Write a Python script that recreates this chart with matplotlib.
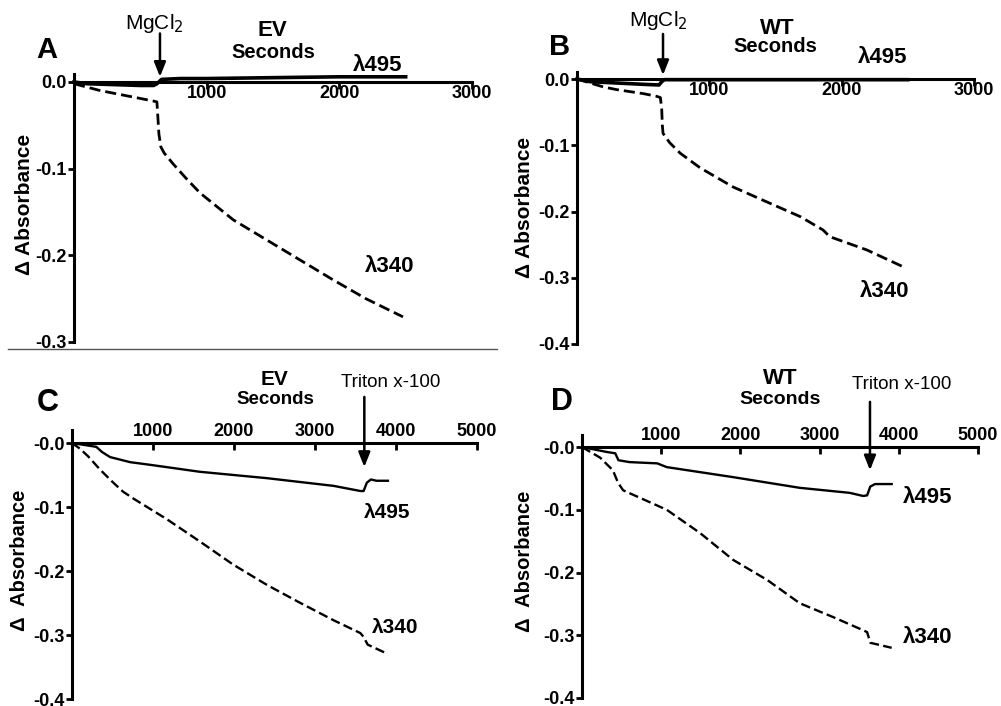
import matplotlib
matplotlib.use('Agg')
import matplotlib.pyplot as plt
from matplotlib.lines import Line2D

plt.rcParams['font.family'] = ['Liberation Sans', 'DejaVu Sans']
plt.rcParams['axes.unicode_minus'] = False

# ---- data (time in s, delta absorbance) ----
# Panel A: EV, MgCl2 added ~630 s
a_t340 = [0, 100, 200, 300, 400, 500, 600, 625, 630, 640, 655, 680, 750, 850, 950, 1200, 1450, 1700, 1950, 2200, 2480]
a_y340 = [-0.002, -0.006, -0.010, -0.013, -0.016, -0.019, -0.022, -0.023, -0.035, -0.060, -0.075, -0.082,
          -0.095, -0.112, -0.128, -0.159, -0.182, -0.205, -0.228, -0.250, -0.271]
a_t495 = [0, 100, 300, 500, 600, 625, 660, 800, 1000, 1500, 2000, 2500]
a_y495 = [0, -0.002, -0.003, -0.004, -0.004, -0.002, 0.003, 0.004, 0.004, 0.005, 0.006, 0.006]

# Panel B: WT, MgCl2 added ~640 s
b_t340 = [0, 100, 200, 300, 400, 500, 600, 630, 640, 645, 650, 700, 780, 930, 1180, 1440, 1690, 1860, 1910, 2190, 2460]
b_y340 = [0, -0.006, -0.012, -0.016, -0.019, -0.022, -0.026, -0.028, -0.045, -0.070, -0.082, -0.096,
          -0.112, -0.134, -0.163, -0.186, -0.208, -0.228, -0.238, -0.258, -0.283]
b_t495 = [0, 100, 300, 500, 620, 640, 660, 1000, 1500, 2000, 2500]
b_y495 = [0, -0.004, -0.006, -0.008, -0.009, -0.004, -0.001, -0.001, -0.001, -0.001, -0.001]

# Panel C: EV, Triton x-100 added ~3600 s
c_t340 = [0, 100, 200, 350, 510, 630, 760, 1170, 1580, 1990, 2410, 2820, 3230, 3560, 3600, 3650, 3870]
c_y340 = [0, -0.009, -0.021, -0.042, -0.062, -0.076, -0.087, -0.119, -0.154, -0.190, -0.222, -0.250,
          -0.277, -0.297, -0.303, -0.315, -0.328]
c_t495 = [0, 150, 300, 370, 470, 720, 960, 1580, 2410, 3230, 3560, 3600, 3640, 3690, 3760, 3900]
c_y495 = [0, -0.003, -0.006, -0.014, -0.022, -0.030, -0.034, -0.045, -0.055, -0.067, -0.075, -0.075,
          -0.062, -0.057, -0.059, -0.059]

# Panel D: WT, Triton x-100 added ~3620 s
d_t340 = [0, 230, 390, 455, 520, 1070, 1490, 1910, 2340, 2750, 3170, 3550, 3600, 3640, 3910]
d_y340 = [0, -0.017, -0.037, -0.057, -0.069, -0.100, -0.137, -0.180, -0.212, -0.249, -0.271, -0.292,
          -0.295, -0.312, -0.320]
d_t495 = [0, 200, 320, 420, 460, 600, 950, 1070, 1910, 2750, 3380, 3550, 3600, 3640, 3700, 3910]
d_y495 = [0, -0.005, -0.008, -0.010, -0.021, -0.024, -0.026, -0.032, -0.048, -0.065, -0.073, -0.078,
          -0.077, -0.063, -0.059, -0.059]

top_xticks = [1000, 2000, 3000]
bot_xticks = [1000, 2000, 3000, 4000, 5000]
a_yticks = [0.0, -0.1, -0.2, -0.3]
a_ylabels = ['0.0', '-0.1', '-0.2', '-0.3']
b_yticks = [0.0, -0.1, -0.2, -0.3, -0.4]
b_ylabels = ['0.0', '-0.1', '-0.2', '-0.3', '-0.4']
cd_ylabels = ['-0.0', '-0.1', '-0.2', '-0.3', '-0.4']

W, H = 1001, 706
fig = plt.figure(figsize=(W / 100, H / 100), dpi=100, facecolor='white')


def px_axes(x0, x1, y_top, y_bot):
    return fig.add_axes([x0 / W, 1 - y_bot / H, (x1 - x0) / W, (y_bot - y_top) / H])


def fig_text(x, y, s, **kw):
    fig.text(x / W, 1 - y / H, s, ha='center', va='center', **kw)


def style_axes(ax, xmax, ylim, xticks, yticks, ylabels, labels_on_top):
    ax.set_xlim(0, xmax)
    ax.set_ylim(*ylim)
    ax.patch.set_visible(False)
    ax.spines['right'].set_visible(False)
    ax.spines['left'].set_linewidth(2.2)
    ax.set_yticks(yticks)
    ax.set_yticklabels(ylabels)
    ax.tick_params(axis='y', direction='out', length=4, width=2, pad=1.5,
                   labelsize=13)
    ax.set_xticks(xticks)
    if labels_on_top:
        ax.spines['bottom'].set_visible(False)
        ax.spines['top'].set_position(('data', 0))
        ax.spines['top'].set_linewidth(2.2)
        ax.xaxis.set_ticks_position('top')
        ax.tick_params(axis='x', direction='in', length=5, width=2, pad=2,
                       labelsize=13)
    else:
        ax.spines['top'].set_visible(False)
        ax.spines['bottom'].set_position(('data', 0))
        ax.spines['bottom'].set_linewidth(2.2)
        ax.tick_params(axis='x', direction='out', length=5, width=2, pad=-3,
                       labelsize=13)
    for lab in ax.get_xticklabels() + ax.get_yticklabels():
        lab.set_fontweight('bold')


def arrow(ax, t, y_tail, y_tip):
    ax.annotate('', xy=(t, y_tip), xytext=(t, y_tail), annotation_clip=False,
                arrowprops=dict(arrowstyle='-|>,head_length=0.55,head_width=0.22',
                                color='black', lw=1.8, mutation_scale=16,
                                shrinkA=0, shrinkB=0))


dash = (0, (4, 1.8))

# ---------------- Panel A ----------------
axA = px_axes(74, 472, 74.2, 342)
style_axes(axA, 3000, (-0.3, 0.009), top_xticks, a_yticks, a_ylabels, False)
axA.plot(a_t340, a_y340, color='black', lw=2.0, linestyle=dash, clip_on=False)
axA.plot(a_t495, a_y495, color='black', lw=2.6, clip_on=False)
axA.text(2291, 0.0195, 'λ495', fontsize=16, fontweight='bold', ha='center', va='center')
axA.text(2382, -0.213, 'λ340', fontsize=16, fontweight='bold', ha='center', va='center')
axA.text(603, 0.068, r'MgCl$_2$', fontsize=15, ha='center', va='center')
arrow(axA, 648, 0.056, 0.006)

# ---------------- Panel B ----------------
axB = px_axes(577, 974, 72.4, 344)
style_axes(axB, 3000, (-0.4, 0.01), top_xticks, b_yticks, b_ylabels, False)
axB.plot(b_t340, b_y340, color='black', lw=2.0, linestyle=dash, clip_on=False)
axB.plot(b_t495, b_y495, color='black', lw=2.6, clip_on=False)
axB.text(2312, 0.033, 'λ495', fontsize=16, fontweight='bold', ha='center', va='center')
axB.text(2327, -0.321, 'λ340', fontsize=16, fontweight='bold', ha='center', va='center')
axB.text(612, 0.089, r'MgCl$_2$', fontsize=15, ha='center', va='center')
arrow(axB, 650, 0.068, 0.006)

# ---------------- Panel C ----------------
axC = px_axes(72, 477, 430.2, 699)
style_axes(axC, 5000, (-0.4, 0.02), bot_xticks, b_yticks, cd_ylabels, True)
axC.plot(c_t340, c_y340, color='black', lw=1.7, linestyle=dash)
axC.plot(c_t495, c_y495, color='black', lw=1.7)
axC.text(3894, -0.108, 'λ495', fontsize=15, fontweight='bold', ha='center', va='center')
axC.text(3993, -0.289, 'λ340', fontsize=15, fontweight='bold', ha='center', va='center')
axC.text(3931, 0.095, 'Triton x-100', fontsize=13.5, ha='center', va='center')
arrow(axC, 3609, 0.072, -0.0375)

# ---------------- Panel D ----------------
axD = px_axes(582, 978, 434.5, 698)
style_axes(axD, 5000, (-0.4, 0.02), bot_xticks, b_yticks, cd_ylabels, True)
axD.plot(d_t340, d_y340, color='black', lw=1.7, linestyle=dash)
axD.plot(d_t495, d_y495, color='black', lw=1.7)
axD.text(4369, -0.080, 'λ495', fontsize=16, fontweight='bold', ha='center', va='center')
axD.text(4369, -0.303, 'λ340', fontsize=16, fontweight='bold', ha='center', va='center')
axD.text(4040, 0.099, 'Triton x-100', fontsize=13.5, ha='center', va='center')
arrow(axD, 3636, 0.072, -0.037)

# ---------------- figure-level labels ----------------
fig_text(47, 50, 'A', fontsize=21, fontweight='bold')
fig_text(560, 47, 'B', fontsize=21, fontweight='bold')
fig_text(48, 403, 'C', fontsize=22, fontweight='bold')
fig_text(562, 402, 'D', fontsize=22, fontweight='bold')

fig_text(272, 30, 'EV', fontsize=16, fontweight='bold')
fig_text(273, 52, 'Seconds', fontsize=14.5, fontweight='bold')
fig_text(777, 28, 'WT', fontsize=16, fontweight='bold')
fig_text(775, 47, 'Seconds', fontsize=14.5, fontweight='bold')
fig_text(275, 380, 'EV', fontsize=15, fontweight='bold')
fig_text(275, 400, 'Seconds', fontsize=13.5, fontweight='bold')
fig_text(780, 378, 'WT', fontsize=16, fontweight='bold')
fig_text(780, 400, 'Seconds', fontsize=14, fontweight='bold')

fig_text(25, 204, 'Δ Absorbance', fontsize=15, fontweight='bold', rotation=90)
fig_text(525, 207, 'Δ Absorbance', fontsize=15, fontweight='bold', rotation=90)
fig_text(20, 560, 'Δ  Absorbance', fontsize=14.5, fontweight='bold', rotation=90)
fig_text(525, 561, 'Δ  Absorbance', fontsize=14.5, fontweight='bold', rotation=90)

# thin separator under panel A
fig.add_artist(Line2D([8 / W, 497 / W], [1 - 349 / H, 1 - 349 / H], color='#555555', lw=1))

fig.savefig('out.png', dpi=100, facecolor='white')
